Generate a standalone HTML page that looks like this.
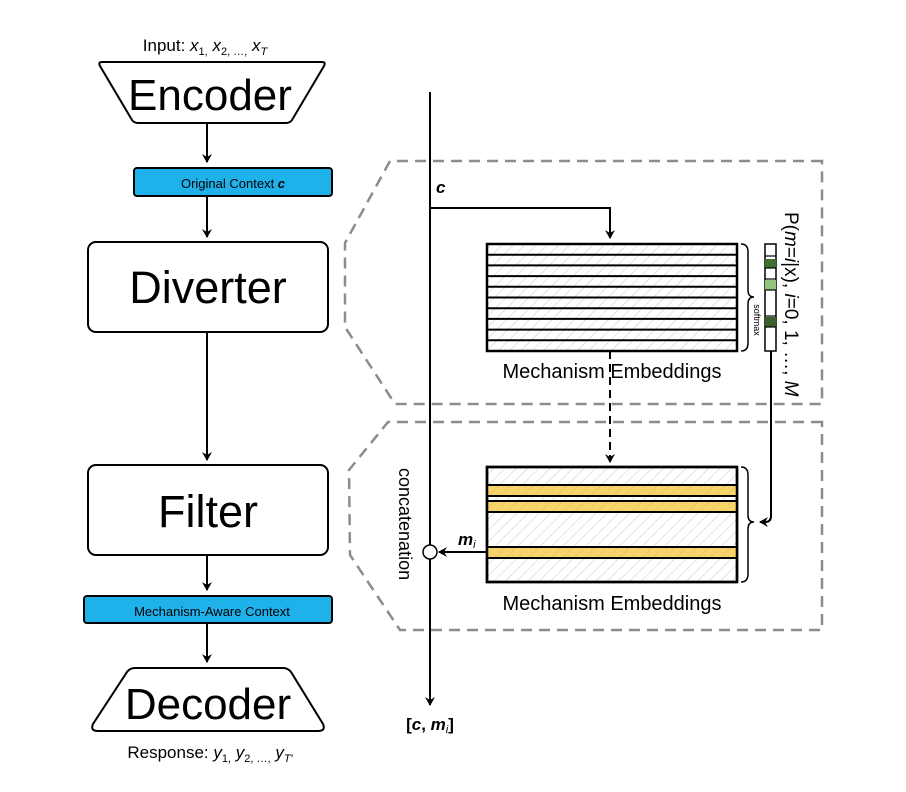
<!DOCTYPE html>
<html><head><meta charset="utf-8"><style>
html,body{margin:0;padding:0;background:#fff;}
svg{display:block;font-family:"Liberation Sans",sans-serif;}
</style></head><body>
<svg width="906" height="792" viewBox="0 0 906 792" xmlns="http://www.w3.org/2000/svg">
<defs>
<marker id="ah" markerWidth="10" markerHeight="10" refX="8" refY="5" orient="auto" markerUnits="userSpaceOnUse">
<path d="M0,0 L9,5 L0,10 L3,5 Z" fill="#000"/></marker>
<pattern id="hatch" width="8" height="8" patternUnits="userSpaceOnUse" patternTransform="rotate(45)">
<rect width="8" height="8" fill="#fff"/><line x1="0" y1="0" x2="0" y2="8" stroke="#c8c8c8" stroke-width="1"/></pattern>
<pattern id="hatchy" width="8" height="8" patternUnits="userSpaceOnUse" patternTransform="rotate(45)">
<rect width="8" height="8" fill="#f7d46a"/><line x1="0" y1="0" x2="0" y2="8" stroke="#e3bd52" stroke-width="1"/></pattern>
</defs>

<!-- Left column -->
<text x="205" y="51" font-size="17" text-anchor="middle">Input: <tspan font-style="italic">x</tspan><tspan font-size="11" dy="4">1,</tspan><tspan dy="-4"> </tspan><tspan font-style="italic">x</tspan><tspan font-size="11" dy="4">2, …,</tspan><tspan dy="-4"> </tspan><tspan font-style="italic">x</tspan><tspan font-size="11" dy="4" font-style="italic">T</tspan></text>
<path d="M102,62 L322,62 Q326,62 324,66 L292,120 Q290,123 286,123 L138,123 Q134,123 132,120 L100,66 Q98,62 102,62 Z" fill="#fff" stroke="#000" stroke-width="2"/>
<text x="210" y="110" font-size="44" text-anchor="middle">Encoder</text>
<line x1="207" y1="123" x2="207" y2="162" stroke="#000" stroke-width="2" marker-end="url(#ah)"/>
<rect x="134" y="168" width="198" height="28" rx="3" fill="#1fb2ea" stroke="#000" stroke-width="2"/>
<text x="233" y="188" font-size="13" text-anchor="middle">Original Context <tspan font-weight="bold" font-style="italic">c</tspan></text>
<line x1="207" y1="196" x2="207" y2="237" stroke="#000" stroke-width="2" marker-end="url(#ah)"/>
<rect x="88" y="242" width="240" height="90" rx="8" fill="#fff" stroke="#000" stroke-width="2"/>
<text x="208" y="303" font-size="45" text-anchor="middle">Diverter</text>
<line x1="207" y1="332" x2="207" y2="460" stroke="#000" stroke-width="2" marker-end="url(#ah)"/>
<rect x="88" y="465" width="240" height="90" rx="8" fill="#fff" stroke="#000" stroke-width="2"/>
<text x="208" y="527" font-size="45" text-anchor="middle">Filter</text>
<line x1="207" y1="555" x2="207" y2="590" stroke="#000" stroke-width="2" marker-end="url(#ah)"/>
<rect x="84" y="596" width="248" height="27" rx="3" fill="#1fb2ea" stroke="#000" stroke-width="2"/>
<text x="212" y="616" font-size="13" text-anchor="middle">Mechanism-Aware Context</text>
<line x1="207" y1="623" x2="207" y2="662" stroke="#000" stroke-width="2" marker-end="url(#ah)"/>
<path d="M135,668 L283,668 Q288,668 291,672 L323,724 Q326,731 318,731 L98,731 Q90,731 93,724 L127,672 Q130,668 135,668 Z" fill="#fff" stroke="#000" stroke-width="2"/>
<text x="208" y="719" font-size="44" text-anchor="middle">Decoder</text>
<text x="210" y="758" font-size="17" text-anchor="middle">Response: <tspan font-style="italic">y</tspan><tspan font-size="11" dy="4">1,</tspan><tspan dy="-4"> </tspan><tspan font-style="italic">y</tspan><tspan font-size="11" dy="4">2, …,</tspan><tspan dy="-4"> </tspan><tspan font-style="italic">y</tspan><tspan font-size="11" dy="4" font-style="italic">T′</tspan></text>

<!-- Dashed regions -->
<path d="M822,161 L390,161 L345,243 L345,327 L395,404 L822,404 Z" fill="none" stroke="#8c8c8c" stroke-width="2.5" stroke-dasharray="11,7"/>
<path d="M822,422 L388,422 L349,470 L350,555 L400,630 L822,630 Z" fill="none" stroke="#8c8c8c" stroke-width="2.5" stroke-dasharray="11,7"/>

<!-- main line -->
<line x1="430" y1="92" x2="430" y2="705" stroke="#000" stroke-width="2" marker-end="url(#ah)"/>
<text x="436" y="193" font-size="17" font-weight="bold" font-style="italic">c</text>
<path d="M430,208 L610,208 L610,238" fill="none" stroke="#000" stroke-width="2" marker-end="url(#ah)"/>

<!-- top matrix -->
<rect x="487" y="244" width="250" height="107" fill="url(#hatch)" stroke="#000" stroke-width="2.5"/>
<g stroke="#000" stroke-width="2">
<line x1="487" y1="254.7" x2="737" y2="254.7"/><line x1="487" y1="265.4" x2="737" y2="265.4"/>
<line x1="487" y1="276.1" x2="737" y2="276.1"/><line x1="487" y1="286.8" x2="737" y2="286.8"/>
<line x1="487" y1="297.5" x2="737" y2="297.5"/><line x1="487" y1="308.2" x2="737" y2="308.2"/>
<line x1="487" y1="318.9" x2="737" y2="318.9"/><line x1="487" y1="329.6" x2="737" y2="329.6"/>
<line x1="487" y1="340.3" x2="737" y2="340.3"/>
</g>
<path d="M741,244 Q748,244 748,252 L748,290 Q748,297 754,297 Q748,297 748,304 L748,343 Q748,351 741,351" fill="none" stroke="#000" stroke-width="1.5"/>
<text transform="translate(754,320) rotate(90)" font-size="9" text-anchor="middle">softmax</text>
<text x="612" y="378" font-size="20" text-anchor="middle">Mechanism Embeddings</text>
<line x1="610" y1="351" x2="610" y2="462" stroke="#000" stroke-width="2" stroke-dasharray="8,5" marker-end="url(#ah)"/>

<!-- prob vector -->
<rect x="765" y="244" width="11" height="107" fill="#fff" stroke="#000" stroke-width="1.5"/>
<rect x="765" y="259" width="11" height="9" fill="#3e6f2c"/>
<rect x="765" y="280" width="11" height="10" fill="#93c47d"/>
<rect x="765" y="317" width="11" height="10" fill="#3a5f2a"/>
<g stroke="#000" stroke-width="1.2">
<line x1="765" y1="256" x2="776" y2="256"/><line x1="765" y1="268" x2="776" y2="268"/>
<line x1="765" y1="279" x2="776" y2="279"/><line x1="765" y1="290" x2="776" y2="290"/>
<line x1="765" y1="316" x2="776" y2="316"/><line x1="765" y1="327" x2="776" y2="327"/>
</g>
<text transform="translate(785,212) rotate(90)" font-size="19">P(<tspan font-style="italic">m</tspan>=<tspan font-style="italic">i</tspan>|x), <tspan font-style="italic">i</tspan>=0, 1, …, <tspan font-style="italic">M</tspan></text>
<path d="M771,351 L771,516 Q771,522 765,522 L760,522" fill="none" stroke="#000" stroke-width="2" marker-end="url(#ah)"/>

<!-- bottom matrix -->
<rect x="487" y="467" width="250" height="115" fill="url(#hatch)" stroke="#000" stroke-width="2.5"/>
<rect x="487" y="485" width="250" height="11" fill="url(#hatchy)"/>
<rect x="487" y="501" width="250" height="11" fill="url(#hatchy)"/>
<rect x="487" y="547" width="250" height="11" fill="url(#hatchy)"/>
<g stroke="#000" stroke-width="2">
<line x1="487" y1="485" x2="737" y2="485"/><line x1="487" y1="496" x2="737" y2="496"/>
<line x1="487" y1="501" x2="737" y2="501"/><line x1="487" y1="512" x2="737" y2="512"/>
<line x1="487" y1="547" x2="737" y2="547"/><line x1="487" y1="558" x2="737" y2="558"/>
</g>
<rect x="487" y="467" width="250" height="115" fill="none" stroke="#000" stroke-width="2.5"/>
<path d="M741,467 Q748,467 748,475 L748,515 Q748,522 754,522 Q748,522 748,529 L748,574 Q748,582 741,582" fill="none" stroke="#000" stroke-width="1.5"/>
<text x="612" y="610" font-size="20" text-anchor="middle">Mechanism Embeddings</text>

<line x1="487" y1="552" x2="439" y2="552" stroke="#000" stroke-width="2" marker-end="url(#ah)"/>
<circle cx="430" cy="552" r="7" fill="#fff" stroke="#000" stroke-width="1.5"/>
<text x="458" y="545" font-size="17" font-weight="bold" font-style="italic">m<tspan font-size="11" font-weight="normal" dy="3">i</tspan></text>
<text transform="translate(399,468) rotate(90)" font-size="18">concatenation</text>
<text x="430" y="730" font-size="17" font-weight="bold" text-anchor="middle">[<tspan font-style="italic">c</tspan>, <tspan font-style="italic">m</tspan><tspan font-size="11" font-weight="normal" font-style="italic" dy="3">i</tspan><tspan dy="-3">]</tspan></text>
</svg>
</body></html>
